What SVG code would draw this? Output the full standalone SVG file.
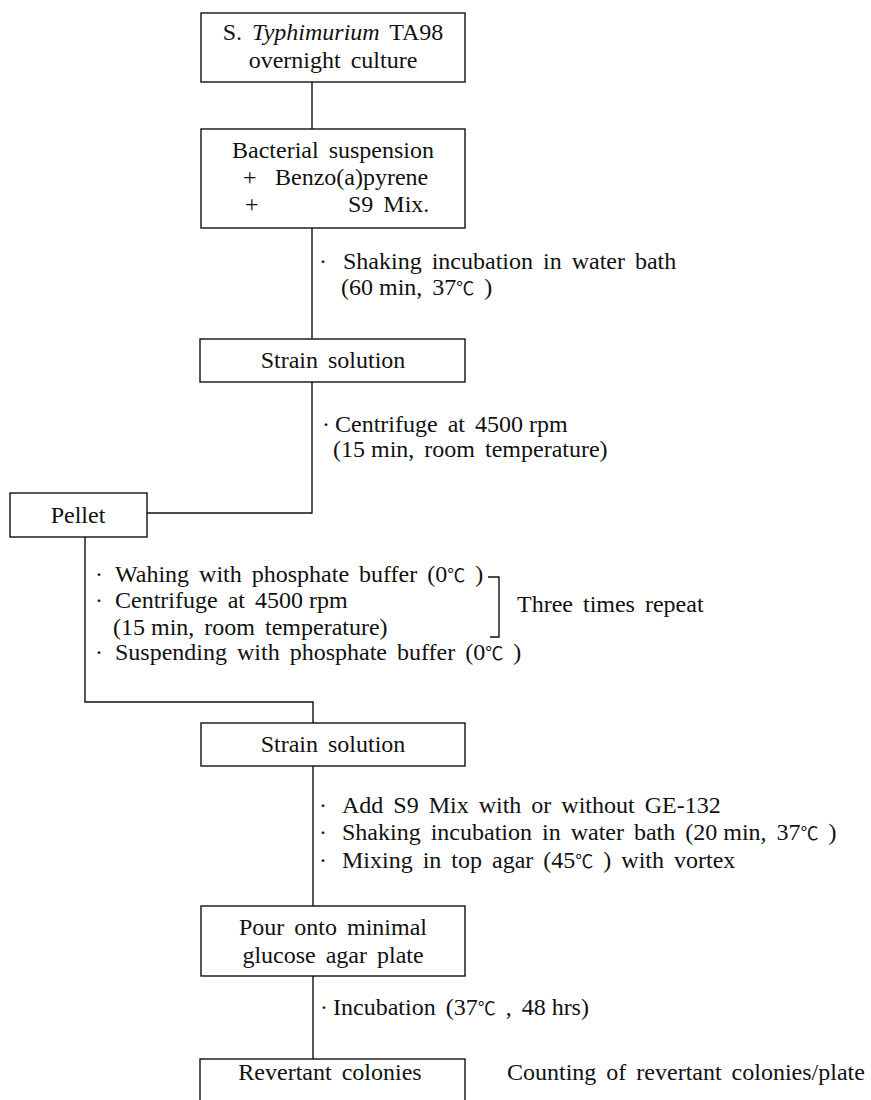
<svg xmlns="http://www.w3.org/2000/svg" width="871" height="1100" viewBox="0 0 871 1100">
<style>
.bx{fill:#fff;stroke:#111;stroke-width:1.4}
.ln{fill:none;stroke:#111;stroke-width:1.4}
text{font-family:"Liberation Serif","DejaVu Serif","Noto Sans CJK KR",serif;font-size:24px;fill:#111;word-spacing:4px}
.c{text-anchor:middle}
.dg{font-family:"Noto Sans CJK KR","DejaVu Sans",sans-serif;font-size:18px}
.tight{word-spacing:0}
</style>
<rect width="871" height="1100" fill="#fff"/>
<g id="connectors">
<line class="ln" x1="312" y1="82" x2="312" y2="129"/>
<line class="ln" x1="312" y1="228" x2="312" y2="339"/>
<polyline class="ln" points="312,382 312,513 147,513"/>
<polyline class="ln" points="85,537 85,702 313,702 313,723"/>
<line class="ln" x1="313" y1="766" x2="313" y2="906"/>
<line class="ln" x1="313" y1="976" x2="313" y2="1059"/>
<polyline class="ln" points="488,577 499,577 499,637 490,637"/>
</g>
<g id="n1">
<rect class="bx" x="201" y="13" width="264" height="69"/>
<text class="c" x="333" y="40">S. <tspan font-style="italic">Typhimurium</tspan> TA98</text>
<text class="c" x="333" y="68">overnight culture</text>
</g>
<g id="n2">
<rect class="bx" x="201" y="129" width="264" height="99"/>
<text class="c" x="333" y="158">Bacterial suspension</text>
<text x="243" y="185">+</text>
<text x="275" y="185">Benzo(a)pyrene</text>
<text x="245" y="212">+</text>
<text x="348" y="212">S9 Mix.</text>
</g>
<g id="step1">
<text><tspan x="319" y="269">·</tspan><tspan x="343" y="269">Shaking incubation in water bath</tspan></text>
<text x="341" y="295">(60<tspan class="tight"> min,</tspan> 37<tspan class="dg">℃</tspan> )</text>
</g>
<g id="n3">
<rect class="bx" x="200" y="339" width="265" height="43"/>
<text class="c" x="333" y="368">Strain solution</text>
</g>
<g id="step2">
<text><tspan x="322" y="432">·</tspan><tspan x="335" y="432">Centrifuge at 4500</tspan><tspan class="tight"> rpm</tspan></text>
<text x="333" y="457">(15<tspan class="tight"> min,</tspan> room temperature)</text>
</g>
<g id="n4">
<rect class="bx" x="10" y="493" width="137" height="44"/>
<text class="c" x="78" y="523">Pellet</text>
</g>
<g id="step3">
<text><tspan x="95" y="582">·</tspan><tspan x="115" y="582">Wahing with phosphate buffer (0<tspan class="dg">℃</tspan> )</tspan></text>
<text><tspan x="95" y="608">·</tspan><tspan x="115" y="608">Centrifuge at 4500</tspan><tspan class="tight"> rpm</tspan></text>
<text x="113" y="635">(15<tspan class="tight"> min,</tspan> room temperature)</text>
<text><tspan x="95" y="660">·</tspan><tspan x="115" y="660">Suspending with phosphate buffer (0<tspan class="dg">℃</tspan> )</tspan></text>
<text x="517" y="612">Three times repeat</text>
</g>
<g id="n5">
<rect class="bx" x="201" y="723" width="264" height="43"/>
<text class="c" x="333" y="752">Strain solution</text>
</g>
<g id="step4">
<text><tspan x="319" y="813">·</tspan><tspan x="342" y="813">Add S9 Mix with or without GE-132</tspan></text>
<text><tspan x="319" y="840">·</tspan><tspan x="342" y="840">Shaking incubation in water bath (20<tspan class="tight"> min,</tspan> 37<tspan class="dg">℃</tspan> )</tspan></text>
<text><tspan x="319" y="868">·</tspan><tspan x="342" y="868">Mixing in top agar (45<tspan class="dg">℃</tspan> ) with vortex</tspan></text>
</g>
<g id="n6">
<rect class="bx" x="201" y="906" width="264" height="70"/>
<text class="c" x="333" y="935">Pour onto minimal</text>
<text class="c" x="333" y="963">glucose agar plate</text>
</g>
<g id="step5">
<text><tspan x="320" y="1015">·</tspan><tspan x="333" y="1015">Incubation (37<tspan class="dg">℃</tspan> , 48<tspan class="tight"> hrs)</tspan></tspan></text>
</g>
<g id="n7">
<rect class="bx" x="200" y="1059" width="265" height="60"/>
<text class="c" x="330" y="1080">Revertant colonies</text>
</g>
<text x="507" y="1080">Counting of revertant colonies/plate</text>
</svg>
